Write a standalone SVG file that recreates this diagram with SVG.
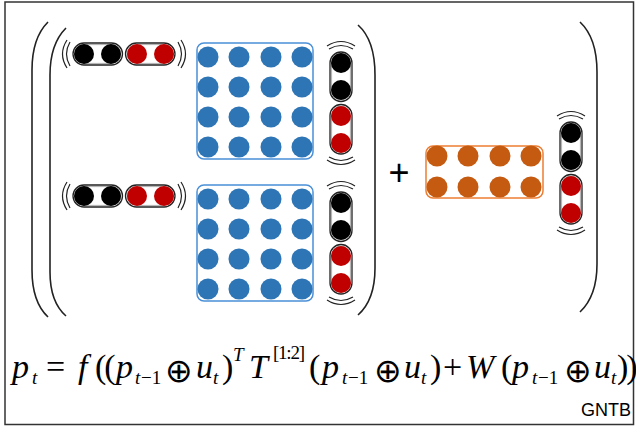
<svg xmlns="http://www.w3.org/2000/svg" width="636" height="429" viewBox="0 0 636 429">
<style>
.frame{fill:#fff;stroke:#333;stroke-width:1.5}
.paren{fill:none;stroke:#222;stroke-width:1.6}
.arc{fill:none;stroke:#222;stroke-width:1.2}
.cap{fill:#fff;stroke:#222;stroke-width:1.3}
.capi{fill:none;stroke:#999;stroke-width:0.8}
.k{fill:#000}
.r{fill:#C00000}
.b{fill:#2E75B6}
.o{fill:#C55A11}
.bbox{fill:#fff;stroke:#4A90D9;stroke-width:1.5}
.obox{fill:#fff;stroke:#ED7D31;stroke-width:1.5}
.m{font-family:"Liberation Serif","Times New Roman",serif;font-size:34px;fill:#000}
.mi{font-family:"Liberation Serif","Times New Roman",serif;font-size:34px;font-style:italic;fill:#000}
.s{font-family:"Liberation Serif","Times New Roman",serif;font-size:19px;fill:#000}
.si{font-family:"Liberation Serif","Times New Roman",serif;font-size:19px;font-style:italic;fill:#000}
.op{font-family:"DejaVu Sans",sans-serif;font-size:33px;fill:#000}
.lbl{font-family:"Liberation Sans",Arial,sans-serif;font-size:18px;fill:#000}
</style>
<defs>
<g id="rowvec">
<rect class="cap" x="0" y="-11" width="49.5" height="22" rx="11"/>
<rect class="capi" x="1.6" y="-9.4" width="46.3" height="18.8" rx="9.4"/>
<rect class="cap" x="52.5" y="-11" width="49.5" height="22" rx="11"/>
<rect class="capi" x="54.1" y="-9.4" width="46.3" height="18.8" rx="9.4"/>
<circle class="k" cx="11" cy="0" r="10"/>
<circle class="k" cx="38" cy="0" r="10"/>
<circle class="r" cx="64" cy="0" r="10"/>
<circle class="r" cx="91" cy="0" r="10"/>
<path class="arc" d="M-3,-12 Q-10,0 -3,12"/>
<path class="arc" d="M-6,-14 Q-15,0 -6,14"/>
<path class="arc" d="M105,-12 Q112,0 105,12"/>
<path class="arc" d="M108,-14 Q117,0 108,14"/>
</g>
<g id="colvec">
<rect class="cap" x="-11" y="0" width="22" height="49.5" rx="11"/>
<rect class="capi" x="-9.4" y="1.6" width="18.8" height="46.3" rx="9.4"/>
<rect class="cap" x="-11" y="52.5" width="22" height="49.5" rx="11"/>
<rect class="capi" x="-9.4" y="54.1" width="18.8" height="46.3" rx="9.4"/>
<circle class="k" cx="0" cy="11" r="10"/>
<circle class="k" cx="0" cy="38" r="10"/>
<circle class="r" cx="0" cy="64" r="10"/>
<circle class="r" cx="0" cy="91" r="10"/>
<path class="arc" d="M-12,-3 Q0,-10 12,-3"/>
<path class="arc" d="M-14,-6 Q0,-15 14,-6"/>
<path class="arc" d="M-12,105 Q0,112 12,105"/>
<path class="arc" d="M-14,108 Q0,117 14,108"/>
</g>
<g id="bmat">
<rect class="bbox" x="0" y="0" width="116" height="116" rx="7"/>
<g class="b">
<circle cx="11" cy="14" r="10.5"/><circle cx="42" cy="14" r="10.5"/><circle cx="74" cy="14" r="10.5"/><circle cx="105" cy="14" r="10.5"/>
<circle cx="11" cy="44" r="10.5"/><circle cx="42" cy="44" r="10.5"/><circle cx="74" cy="44" r="10.5"/><circle cx="105" cy="44" r="10.5"/>
<circle cx="11" cy="74" r="10.5"/><circle cx="42" cy="74" r="10.5"/><circle cx="74" cy="74" r="10.5"/><circle cx="105" cy="74" r="10.5"/>
<circle cx="11" cy="104" r="10.5"/><circle cx="42" cy="104" r="10.5"/><circle cx="74" cy="104" r="10.5"/><circle cx="105" cy="104" r="10.5"/>
</g>
</g>
</defs>
<rect class="frame" x="5" y="2" width="628.5" height="422.5"/>
<g id="brackets">
<path class="paren" d="M48,22 Q32,38 32,70 L32,270 Q32,302 48,317"/>
<path class="paren" d="M66,28 Q50,44 50,75 L50,272 Q50,302 66,316"/>
<path class="paren" d="M358,25 Q375,40 375,75 L375,268 Q375,300 358,315"/>
<path class="paren" d="M580,22 Q597,38 597,72 L597,264 Q597,296 580,312"/>
</g>
<g id="row-top"><use href="#rowvec" x="73" y="54"/></g>
<g id="row-bottom"><use href="#rowvec" x="73" y="196"/></g>
<g id="matrix-top"><use href="#bmat" x="197" y="43"/></g>
<g id="matrix-bottom"><use href="#bmat" x="197" y="185"/></g>
<g id="col-top"><use href="#colvec" x="341" y="52"/></g>
<g id="col-bottom"><use href="#colvec" x="341" y="192"/></g>
<g id="plus"><text x="399" y="185" text-anchor="middle" style="font-family:'Liberation Sans',Arial,sans-serif;font-size:36px">+</text></g>
<g id="matrix-w">
<rect class="obox" x="426" y="146" width="117" height="52" rx="7"/>
<g class="o">
<circle cx="437" cy="156" r="10.5"/><circle cx="468" cy="156" r="10.5"/><circle cx="500" cy="156" r="10.5"/><circle cx="531" cy="156" r="10.5"/>
<circle cx="437" cy="187" r="10.5"/><circle cx="468" cy="187" r="10.5"/><circle cx="500" cy="187" r="10.5"/><circle cx="531" cy="187" r="10.5"/>
</g>
</g>
<g id="col-right"><use href="#colvec" x="571" y="122"/></g>
<g id="connectors"></g>
<g id="formula">
<text class="mi" x="12" y="378">p</text>
<text class="si" x="32" y="384">t</text>
<text class="m" x="46" y="378">=</text>
<text class="mi" x="78" y="378">f</text>
<text class="m" x="95" y="378" letter-spacing="-2">((</text>
<text class="mi" x="116" y="378">p</text>
<text class="si" x="135" y="384">t</text><text class="s" x="141" y="384">−1</text>
<text class="op" x="165" y="382">⊕</text>
<text class="mi" x="196" y="378">u</text>
<text class="si" x="213" y="384">t</text>
<text class="m" x="222" y="378">)</text>
<text class="si" x="233" y="361">T</text>
<text class="mi" x="249" y="378">T</text>
<text class="s" x="273" y="359" textLength="32">[1:2]</text>
<text class="m" x="309" y="378">(</text>
<text class="mi" x="322" y="378">p</text>
<text class="si" x="342" y="384">t</text><text class="s" x="348" y="384">−1</text>
<text class="op" x="374" y="382">⊕</text>
<text class="mi" x="404" y="378">u</text>
<text class="si" x="421" y="384">t</text>
<text class="m" x="430" y="378">)</text>
<text class="m" x="443" y="378">+</text>
<text class="mi" x="466" y="378">W</text>
<text class="m" x="501" y="378">(</text>
<text class="mi" x="512" y="378">p</text>
<text class="si" x="532" y="384">t</text><text class="s" x="538" y="384">−1</text>
<text class="op" x="564" y="382">⊕</text>
<text class="mi" x="594" y="378">u</text>
<text class="si" x="611" y="384">t</text>
<text class="m" x="617" y="378" letter-spacing="-2">))</text>
</g>
<text class="lbl" x="581" y="416">GNTB</text>
</svg>
